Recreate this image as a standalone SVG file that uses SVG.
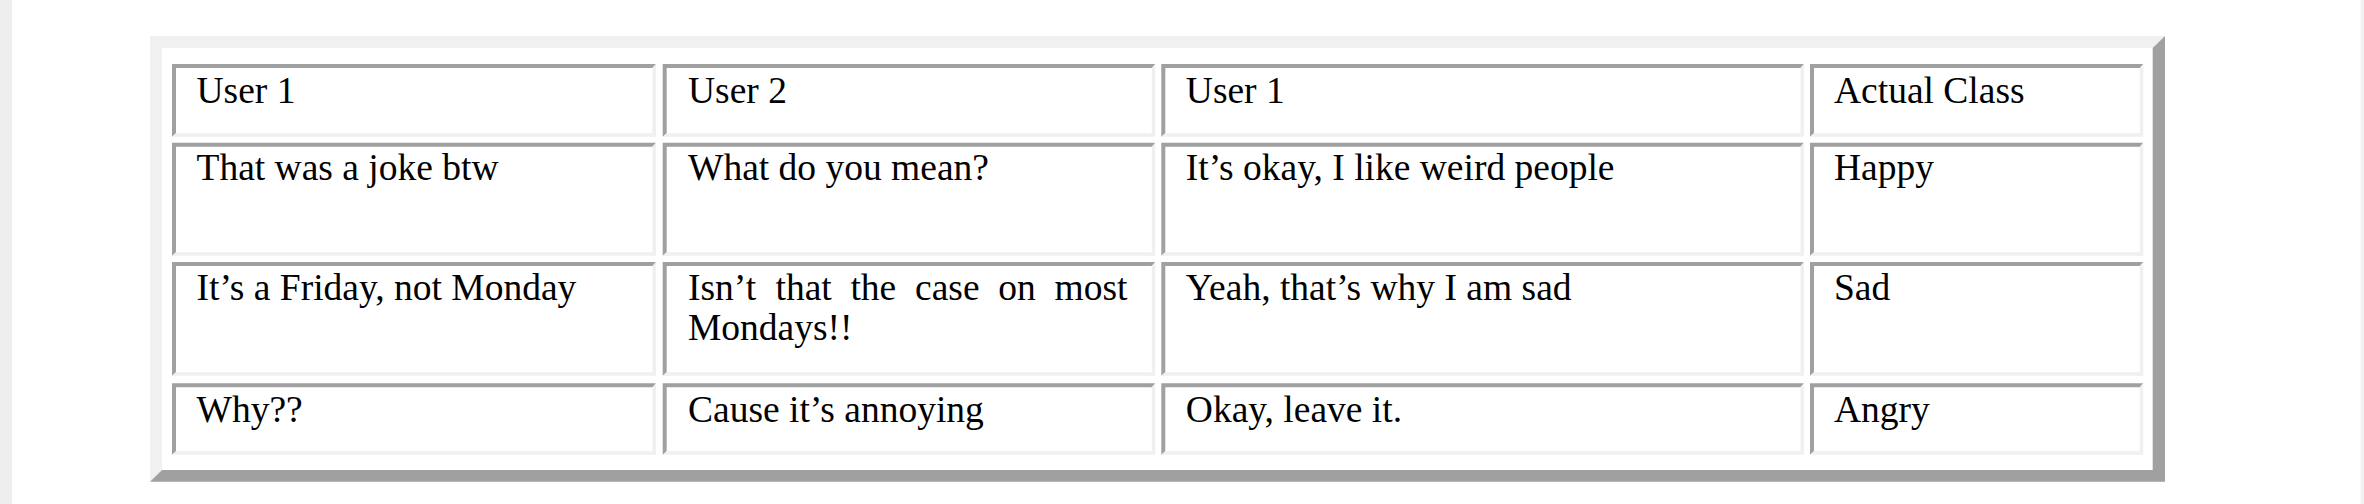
<svg xmlns="http://www.w3.org/2000/svg" width="2364" height="504" viewBox="0 0 2364 504">
<style>
.dk{fill:#a0a0a0}
.lt{fill:#f0f0f0}
.t{font-family:"Liberation Serif","Times New Roman",serif;font-size:37.5px;fill:#000}
</style>
<rect x="0" y="0" width="2364" height="504" fill="#ffffff"/>
<rect x="0" y="0" width="12" height="504" fill="#eeeeee"/>
<rect x="2360.7" y="0" width="3.3" height="504" fill="#f2f2f2"/>
<g id="table-frame">
<polygon class="lt" points="150,36 2165,36 2152.7,48 162,48 162,470 150,481.7"/>
<polygon class="dk" points="2165,36 2165,481.7 150,481.7 162,470 2152.7,470 2152.7,48"/>
</g>
<g id="r1c1"><polygon class="dk" points="172,64 656,64 652.5,68 176,68 176,133.2 172,136.7"/><polygon class="lt" points="656,64 656,136.7 172,136.7 176,133.2 652.5,133.2 652.5,68"/><text class="t" x="196.5" y="103">User 1</text></g>
<g id="r1c2"><polygon class="dk" points="662.7,64 1155.3,64 1151.8,68 666.7,68 666.7,133.2 662.7,136.7"/><polygon class="lt" points="1155.3,64 1155.3,136.7 662.7,136.7 666.7,133.2 1151.8,133.2 1151.8,68"/><text class="t" x="688" y="103">User 2</text></g>
<g id="r1c3"><polygon class="dk" points="1161.3,64 1804,64 1800.5,68 1165.3,68 1165.3,133.2 1161.3,136.7"/><polygon class="lt" points="1804,64 1804,136.7 1161.3,136.7 1165.3,133.2 1800.5,133.2 1800.5,68"/><text class="t" x="1185.8" y="103">User 1</text></g>
<g id="r1c4"><polygon class="dk" points="1810,64 2143.3,64 2139.8,68 1814,68 1814,133.2 1810,136.7"/><polygon class="lt" points="2143.3,64 2143.3,136.7 1810,136.7 1814,133.2 2139.8,133.2 2139.8,68"/><text class="t" x="1834" y="103">Actual Class</text></g>
<g id="r2c1"><polygon class="dk" points="172,142.7 656,142.7 652.5,146.7 176,146.7 176,252.2 172,255.7"/><polygon class="lt" points="656,142.7 656,255.7 172,255.7 176,252.2 652.5,252.2 652.5,146.7"/><text class="t" x="196.5" y="180">That was a joke btw</text></g>
<g id="r2c2"><polygon class="dk" points="662.7,142.7 1155.3,142.7 1151.8,146.7 666.7,146.7 666.7,252.2 662.7,255.7"/><polygon class="lt" points="1155.3,142.7 1155.3,255.7 662.7,255.7 666.7,252.2 1151.8,252.2 1151.8,146.7"/><text class="t" x="688" y="180">What do you mean?</text></g>
<g id="r2c3"><polygon class="dk" points="1161.3,142.7 1804,142.7 1800.5,146.7 1165.3,146.7 1165.3,252.2 1161.3,255.7"/><polygon class="lt" points="1804,142.7 1804,255.7 1161.3,255.7 1165.3,252.2 1800.5,252.2 1800.5,146.7"/><text class="t" x="1185.8" y="180">It’s okay, I like weird people</text></g>
<g id="r2c4"><polygon class="dk" points="1810,142.7 2143.3,142.7 2139.8,146.7 1814,146.7 1814,252.2 1810,255.7"/><polygon class="lt" points="2143.3,142.7 2143.3,255.7 1810,255.7 1814,252.2 2139.8,252.2 2139.8,146.7"/><text class="t" x="1834" y="180">Happy</text></g>
<g id="r3c1"><polygon class="dk" points="172,262 656,262 652.5,266 176,266 176,372.2 172,375.7"/><polygon class="lt" points="656,262 656,375.7 172,375.7 176,372.2 652.5,372.2 652.5,266"/><text class="t" x="196.5" y="299.5">It’s a Friday, not Monday</text></g>
<g id="r3c2"><polygon class="dk" points="662.7,262 1155.3,262 1151.8,266 666.7,266 666.7,372.2 662.7,375.7"/><polygon class="lt" points="1155.3,262 1155.3,375.7 662.7,375.7 666.7,372.2 1151.8,372.2 1151.8,266"/><text class="t" y="299.5"><tspan x="688">Isn’t</tspan><tspan x="775.5">that</tspan><tspan x="850.4">the</tspan><tspan x="915">case</tspan><tspan x="998.3">on</tspan><tspan x="1054.5">most</tspan></text><text class="t" x="688" y="340">Mondays!!</text></g>
<g id="r3c3"><polygon class="dk" points="1161.3,262 1804,262 1800.5,266 1165.3,266 1165.3,372.2 1161.3,375.7"/><polygon class="lt" points="1804,262 1804,375.7 1161.3,375.7 1165.3,372.2 1800.5,372.2 1800.5,266"/><text class="t" x="1185.8" y="299.5">Yeah, that’s why I am sad</text></g>
<g id="r3c4"><polygon class="dk" points="1810,262 2143.3,262 2139.8,266 1814,266 1814,372.2 1810,375.7"/><polygon class="lt" points="2143.3,262 2143.3,375.7 1810,375.7 1814,372.2 2139.8,372.2 2139.8,266"/><text class="t" x="1834" y="299.5">Sad</text></g>
<g id="r4c1"><polygon class="dk" points="172,383.3 656,383.3 652.5,387.3 176,387.3 176,451.2 172,454.7"/><polygon class="lt" points="656,383.3 656,454.7 172,454.7 176,451.2 652.5,451.2 652.5,387.3"/><text class="t" x="196.5" y="421.5">Why??</text></g>
<g id="r4c2"><polygon class="dk" points="662.7,383.3 1155.3,383.3 1151.8,387.3 666.7,387.3 666.7,451.2 662.7,454.7"/><polygon class="lt" points="1155.3,383.3 1155.3,454.7 662.7,454.7 666.7,451.2 1151.8,451.2 1151.8,387.3"/><text class="t" x="688" y="421.5">Cause it’s annoying</text></g>
<g id="r4c3"><polygon class="dk" points="1161.3,383.3 1804,383.3 1800.5,387.3 1165.3,387.3 1165.3,451.2 1161.3,454.7"/><polygon class="lt" points="1804,383.3 1804,454.7 1161.3,454.7 1165.3,451.2 1800.5,451.2 1800.5,387.3"/><text class="t" x="1185.8" y="421.5">Okay, leave it.</text></g>
<g id="r4c4"><polygon class="dk" points="1810,383.3 2143.3,383.3 2139.8,387.3 1814,387.3 1814,451.2 1810,454.7"/><polygon class="lt" points="2143.3,383.3 2143.3,454.7 1810,454.7 1814,451.2 2139.8,451.2 2139.8,387.3"/><text class="t" x="1834" y="421.5">Angry</text></g>
</svg>
